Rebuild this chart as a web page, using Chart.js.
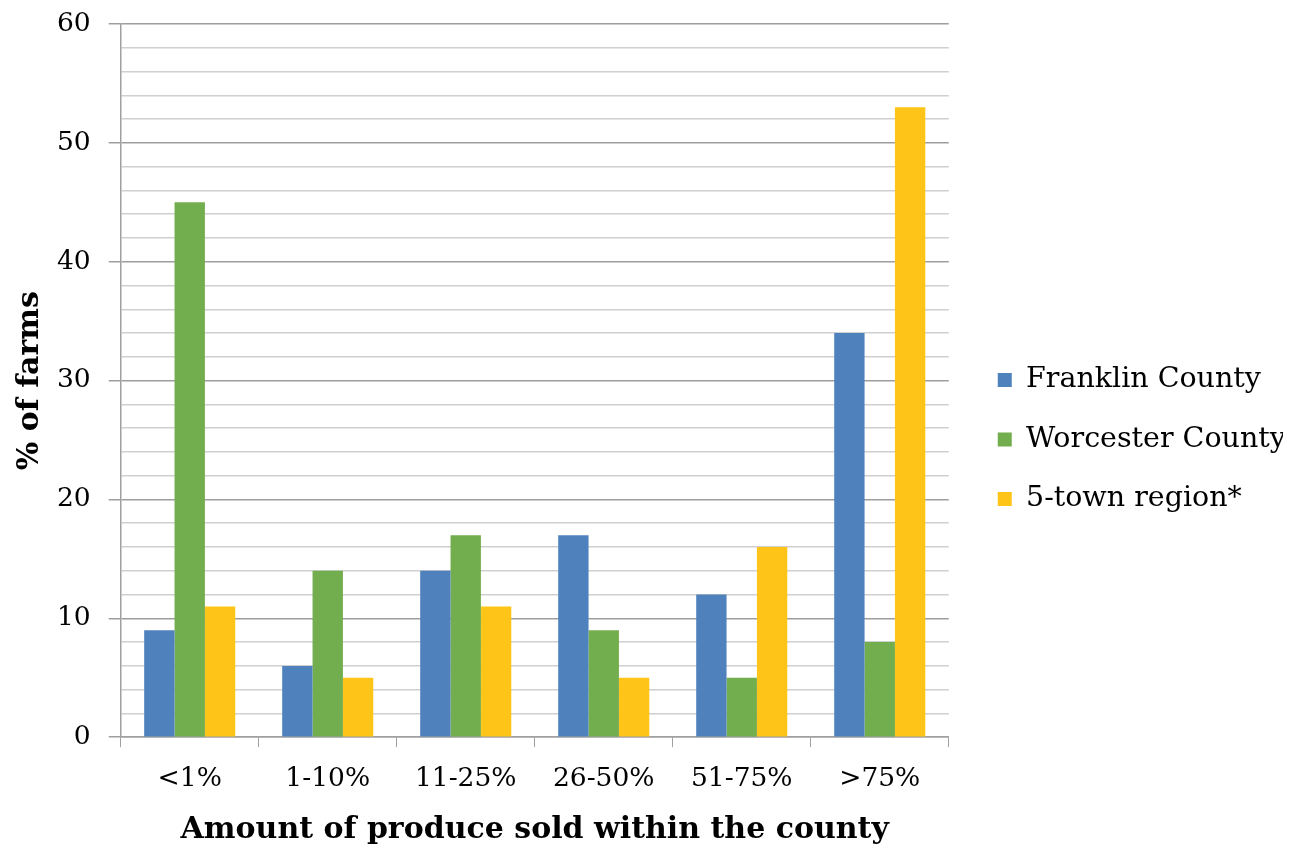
<!DOCTYPE html>
<html>
<head>
<meta charset="utf-8">
<script src="https://cdn.jsdelivr.net/npm/chart.js@4.4.0/dist/chart.umd.min.js"></script>
<style>
  html, body { margin: 0; padding: 0; background: #fff; }
  #wrap { width: 1297px; height: 849px; }
</style>
</head>
<body>
<div id="wrap"><canvas id="myChart" width="1297" height="849"></canvas></div>
<script>
// categorias e valores
const categories = ['<1%', '1-10%', '11-25%', '26-50%', '51-75%', '>75%'];
const franklin = [9, 6, 14, 17, 12, 34];
const worcester = [45, 14, 17, 9, 5, 8];
const fiveTown = [11, 5, 11, 5, 16, 53];

const serif = "'DejaVu Serif', 'Liberation Serif', serif";
const axisGray = '#A0A0A0';

const ctx = document.getElementById('myChart').getContext('2d');

// afasta um pouco a legenda do gráfico (sem mudar o espaçamento vertical)
const legendShift = {
    id: 'legendShift',
    afterLayout(chart) {
        const lg = chart.legend;
        lg.left += 18;
        lg.right += 18;
        lg.top += 3;
        lg.bottom += 3;
    }
};

const config = {
    type: 'bar',
    data: {
        labels: categories,
        datasets: [
            { label: 'Franklin County', data: franklin, backgroundColor: '#4F81BD' },
            { label: 'Worcester County', data: worcester, backgroundColor: '#72AD4E' },
            { label: '5-town region*', data: fiveTown, backgroundColor: '#FEC418' }
        ]
    },
    options: {
        responsive: false,
        animation: false,
        borderWidth: 0,
        datasets: {
            bar: { barPercentage: 1, categoryPercentage: 0.66 }
        },
        layout: { padding: { top: 24, right: 32, left: 0, bottom: 0 } },
        plugins: {
            tooltip: { enabled: false },
            legend: {
                position: 'right',
                labels: {
                    boxWidth: 14,
                    boxHeight: 14,
                    padding: 31,
                    color: '#000',
                    font: { family: serif, size: 28.5 }
                }
            }
        },
        scales: {
            x: {
                grid: {
                    display: true,
                    drawOnChartArea: false,
                    offset: true,
                    tickLength: 10,
                    color: axisGray
                },
                border: { color: axisGray, width: 1.5 },
                ticks: {
                    color: '#000',
                    padding: 16,
                    font: { family: serif, size: 26.5 }
                },
                title: {
                    display: true,
                    text: 'Amount of produce sold within the county',
                    color: '#000',
                    padding: { top: 1, bottom: 1 },
                    font: { family: serif, size: 30, weight: 'bold' }
                }
            },
            y: {
                min: 0,
                max: 60,
                afterFit: s => { s.paddingTop = 0; },
                grid: {
                    tickLength: 12,
                    color: c => (c.tick && c.tick.value % 10 === 0) ? '#9E9E9E' : '#CFCFCF',
                    tickColor: c => (c.tick && c.tick.value % 10 === 0) ? '#9E9E9E' : 'rgba(0,0,0,0)',
                    lineWidth: 1.5
                },
                border: { color: axisGray, width: 1.5 },
                ticks: {
                    stepSize: 2,
                    autoSkip: false,
                    color: '#000',
                    padding: 18,
                    font: { family: serif, size: 26.5 },
                    // só mostra os rótulos de 10 em 10
                    callback: v => (v % 10 === 0 ? v : '')
                },
                title: {
                    display: true,
                    text: '% of farms',
                    color: '#000',
                    padding: { top: 12, bottom: -9 },
                    font: { family: serif, size: 30, weight: 'bold' }
                }
            }
        }
    },
    plugins: [legendShift]
};

const myChart = new Chart(ctx, config);
</script>
</body>
</html>
